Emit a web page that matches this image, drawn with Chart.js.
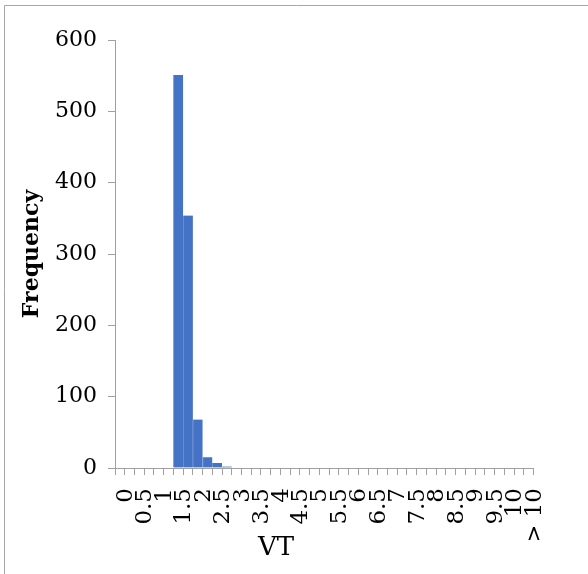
<!DOCTYPE html>
<html>
<head>
<meta charset="utf-8">
<script src="https://cdn.jsdelivr.net/npm/chart.js@4/dist/chart.umd.min.js"></script>
<style>
  html, body { margin: 0; padding: 0; background: #fff; }
  #wrap { position: relative; width: 588px; height: 574px; }
</style>
</head>
<body>
<div id="wrap"><canvas id="c" width="588" height="574"></canvas></div>
<script>
// Bin labels (VT, bin width 0.25) – every second label is shown on the axis
const categories = [
  "0","0.25","0.5","0.75","1","1.25","1.5","1.75","2","2.25",
  "2.5","2.75","3","3.25","3.5","3.75","4","4.25","4.5","4.75",
  "5","5.25","5.5","5.75","6","6.25","6.5","6.75","7","7.25",
  "7.5","7.75","8","8.25","8.5","8.75","9","9.25","9.5","9.75",
  "10","10.25","> 10"
];
// Frequency per bin
const frequency = [
  0,0,0,0,0,0,551,354,68,15,
  7,2,0,0,0,0,0,0,0,0,
  0,0,0,0,0,0,0,0,0,0,
  0,0,0,0,0,0,0,0,0,0,
  0,0,0
];
const yTicks = [0,100,200,300,400,500,600];
const xTitle = "VT";
const yTitle = "Frequency";

const SERIF = "'DejaVu Serif', 'Liberation Serif', serif";
const AXIS = '#a0a0a0';

const frame = {
  id: 'frame',
  beforeDraw(chart) {
    const ctx = chart.ctx;
    ctx.save();
    ctx.fillStyle = '#fff';
    ctx.fillRect(0, 0, chart.width, chart.height);
    ctx.strokeStyle = '#a6a6a6';
    ctx.lineWidth = 1;
    ctx.beginPath();
    ctx.moveTo(4.5, chart.height);
    ctx.lineTo(4.5, 5.5);
    ctx.lineTo(chart.width, 5.5);
    ctx.stroke();
    ctx.restore();
  }
};

new Chart(document.getElementById('c'), {
  type: 'bar',
  data: {
    labels: categories,
    datasets: [{
      label: yTitle,
      data: frequency,
      backgroundColor: '#4472C4',
      borderColor: '#7393d0',
      borderWidth: {left: 1, right: 0, top: 0, bottom: 0},
      barPercentage: 1,
      categoryPercentage: 1
    }]
  },
  options: {
    responsive: false,
    animation: false,
    devicePixelRatio: 1,
    layout: { padding: { left: 18.5, right: 54.5, top: 40, bottom: 18.4 } },
    plugins: {
      legend: { display: false },
      tooltip: { enabled: false },
      title: {
        display: true,
        text: xTitle,
        position: 'bottom',
        color: '#000',
        font: { family: SERIF, size: 26, weight: 'normal', lineHeight: 0.6 },
        padding: { top: 0, bottom: 0 }
      }
    },
    scales: {
      x: {
        type: 'category',
        offset: true,
        afterFit(scale) { scale.height = 72; },
        grid: {
          display: true,
          offset: true,
          drawOnChartArea: false,
          drawTicks: true,
          tickLength: 7,
          color: AXIS,
          lineWidth: 1
        },
        border: { display: true, color: AXIS, width: 1 },
        ticks: {
          autoSkip: false,
          minRotation: 90,
          maxRotation: 90,
          padding: 13,
          labelOffset: 6,
          color: '#000',
          font: { family: SERIF, size: 23 },
          callback: function(value, index) {
            return index % 2 === 0 ? this.getLabelForValue(value) : '';
          }
        },
        title: { display: false }
      },
      y: {
        min: 0,
        max: 600,
        afterFit(scale) { scale.width = 96.5; },
        afterBuildTicks(scale) { scale.ticks = yTicks.map(v => ({ value: v })); },
        grid: {
          display: true,
          drawOnChartArea: false,
          drawTicks: true,
          tickLength: 7,
          color: AXIS,
          lineWidth: 1
        },
        border: { display: true, color: AXIS, width: 1 },
        ticks: {
          padding: 11,
          color: '#000',
          font: { family: SERIF, size: 22 }
        },
        title: {
          display: true,
          text: yTitle,
          color: '#000',
          font: { family: SERIF, size: 22, weight: 'bold', lineHeight: 1.0 },
          padding: { top: 2.5, bottom: 0 }
        }
      }
    }
  },
  plugins: [frame]
});
</script>
</body>
</html>
